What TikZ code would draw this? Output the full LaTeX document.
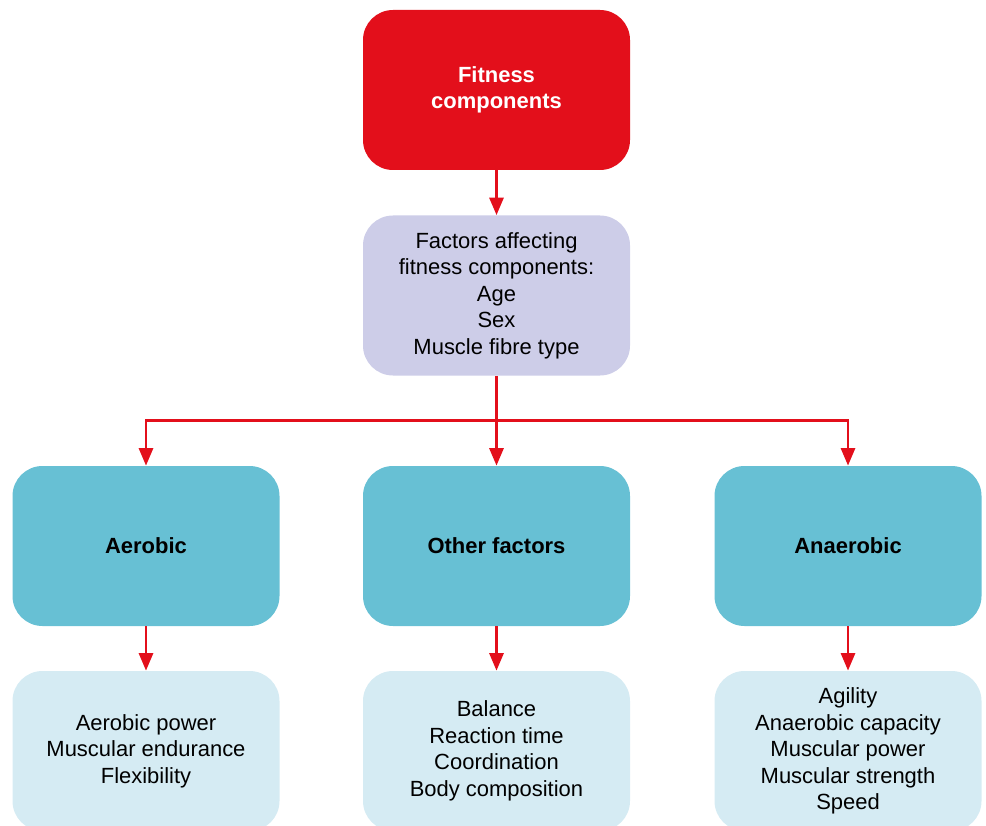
\documentclass[tikz,border=0pt]{standalone}
\usepackage{fontspec}
\setmainfont{Liberation Sans}
\usetikzlibrary{arrows.meta}

\definecolor{boxred}{HTML}{E30F1B}
\definecolor{lavender}{HTML}{CDCDE8}
\definecolor{teal}{HTML}{67C0D4}
\definecolor{paleblue}{HTML}{D5EBF3}

\tikzset{
  box/.style = {rounded corners = 0.6cm, minimum width = 5.34cm, minimum height = 3.2cm,
                inner sep = 0pt, align = center, font = \fontsize{12.5}{15.1}\selectfont},
  head/.style = {box, font = \fontsize{12.5}{15.1}\selectfont\bfseries},
  arr/.style = {draw = boxred, line width = 1.6pt, -{Triangle[width = 8pt, length = 10pt]}}
}

\begin{document}
\begin{tikzpicture}
      \useasboundingbox (0, 0) rectangle (19.72, -16.52);
      \node[head, fill = boxred, text = white] (fitness) at (9.93, -1.8) {Fitness\\components};
      \node[box, fill = lavender] (factors) at (9.93, -5.91) {Factors affecting\\fitness components:\\Age\\Sex\\Muscle fibre type};
      \node[head, fill = teal] (aerobic) at (2.92, -10.92) {Aerobic};
      \node[head, fill = teal] (other) at (9.93, -10.92) {Other factors};
      \node[head, fill = teal] (anaerobic) at (16.96, -10.92) {Anaerobic};
      \node[box, fill = paleblue] (aerobiclist) at (2.92, -15.02) {Aerobic power\\Muscular endurance\\Flexibility};
      \node[box, fill = paleblue] (otherlist) at (9.93, -15.02) {Balance\\Reaction time\\Coordination\\Body composition};
      \node[box, fill = paleblue] (anaerobiclist) at (16.96, -15.02) {Agility\\Anaerobic capacity\\Muscular power\\Muscular strength\\Speed};

      \draw[arr] (fitness) -- (factors);
      \draw[draw = boxred, line width = 1.6pt] (factors.south) -- ++(0, -0.9) coordinate (fork);
      \draw[arr] (fork) -| (aerobic);
      \draw[arr] (fork) -- (other);
      \draw[arr] (fork) -| (anaerobic);
      \draw[arr] (aerobic) -- (aerobiclist);
      \draw[arr] (other) -- (otherlist);
      \draw[arr] (anaerobic) -- (anaerobiclist);
    \end{tikzpicture}
\end{document}
